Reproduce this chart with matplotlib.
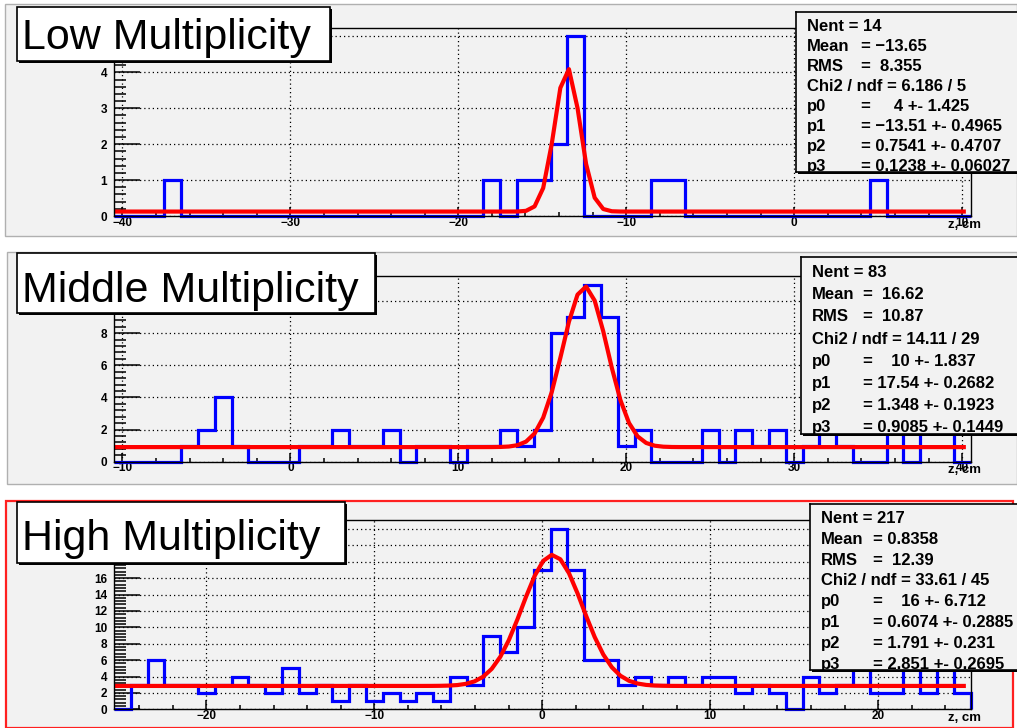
"""Primary vertex z distributions for three multiplicity classes, each fitted
with a gaussian on a flat background (gaus + pol0)."""
import numpy as np
import matplotlib

matplotlib.use("Agg")
import matplotlib.pyplot as plt  # noqa: E402
from matplotlib.patches import Rectangle  # noqa: E402
from matplotlib.ticker import FuncFormatter, MultipleLocator  # noqa: E402

plt.rcParams["font.family"] = ["Liberation Sans", "DejaVu Sans"]

W, H = 1017, 728
MINUS = "\u2212"

# ---- histograms: 1 cm bins centred on integer z ----
titles = ["Low Multiplicity", "Middle Multiplicity", "High Multiplicity"]
z_ranges = [(-40.5, 10.5), (-10.5, 40.5), (-25.5, 25.5)]

counts_low = [0, 0, 0, 1, 0, 0, 0, 0, 0, 0,
              0, 0, 0, 0, 0, 0, 0, 0, 0, 0,
              0, 0, 1, 0, 1, 1, 2, 5, 0, 0,
              0, 0, 1, 1, 0, 0, 0, 0, 0, 0,
              0, 0, 0, 0, 0, 1, 0, 0, 0, 0,
              0]
counts_mid = [0, 0, 0, 0, 1, 2, 4, 1, 0, 0,
              0, 1, 1, 2, 1, 1, 2, 0, 1, 1,
              0, 1, 1, 2, 1, 2, 8, 9, 11, 9,
              1, 2, 0, 0, 0, 2, 0, 2, 1, 2,
              0, 1, 2, 1, 0, 0, 2, 0, 2, 2,
              0]
counts_high = [0, 3, 6, 3, 3, 2, 3, 4, 3, 2,
               5, 2, 3, 1, 3, 1, 2, 1, 2, 1,
               4, 3, 9, 7, 10, 17, 22, 17, 6, 6,
               3, 4, 3, 4, 3, 4, 4, 2, 3, 2,
               0, 4, 2, 3, 5, 2, 2, 6, 2, 6,
               2]
counts = [counts_low, counts_mid, counts_high]

# fit results p0..p3 and the range the fitted function is drawn on
fit_low = [4.0, -13.51, 0.7541, 0.1238]
fit_mid = [10.0, 17.54, 1.348, 0.9085]
fit_high = [16.0, 0.6074, 1.791, 2.851]
fits = [fit_low, fit_mid, fit_high]
fit_ranges = [(-40.5, 10.1), (-10.5, 40.1), (-25.5, 25.1)]

# stat box lines: (label, value part aligned on the "=" column)
stats_low = [("Nent = 14", None), ("Mean", f"= {MINUS}13.65"), ("RMS", "=  8.355"),
             ("Chi2 / ndf = 6.186 / 5", None), ("p0", "=     4 +- 1.425"),
             ("p1", f"= {MINUS}13.51 +- 0.4965"), ("p2", "= 0.7541 +- 0.4707"),
             ("p3", "= 0.1238 +- 0.06027")]
stats_mid = [("Nent = 83", None), ("Mean", "=  16.62"), ("RMS", "=  10.87"),
             ("Chi2 / ndf = 14.11 / 29", None), ("p0", "=    10 +- 1.837"),
             ("p1", "= 17.54 +- 0.2682"), ("p2", "= 1.348 +- 0.1923"),
             ("p3", "= 0.9085 +- 0.1449")]
stats_high = [("Nent = 217", None), ("Mean", "= 0.8358"), ("RMS", "=  12.39"),
              ("Chi2 / ndf = 33.61 / 45", None), ("p0", "=    16 +- 6.712"),
              ("p1", "= 0.6074 +- 0.2885"), ("p2", "= 1.791 +- 0.231"),
              ("p3", "= 2.851 +- 0.2695")]
stats = [stats_low, stats_mid, stats_high]

# ---- layout in pixels (x0, y0, x1, y1), y measured from the top ----
pads = [(5, 4, 1017, 236), (7, 252, 1017, 484), (6, 501, 1013, 728)]
frames = [(114, 27.5, 970.5, 216), (114, 276, 970.5, 461.7), (114, 520, 970.5, 709.3)]
title_boxes = [(17, 7, 330, 61), (17, 253, 375, 313), (17, 502, 345, 563)]
title_base = [49, 301.5, 550]
stat_boxes = [(796, 12, 1030, 172), (801, 257, 1030, 434), (810, 503.6, 1030, 670)]
stat_cols = [(807, 861), (811.6, 863), (820.7, 873)]
y_major = [1, 2, 2]
y_minor = [0.2, 0.4, 0.4]

PAD_COLOR = "#f2f2f2"


def frect(x0, y0, x1, y1):
    return [x0 / W, 1 - y1 / H, (x1 - x0) / W, (y1 - y0) / H]


def fig_box(fig, box, z, **kw):
    x0, y0, x1, y1 = box
    r = Rectangle((x0 / W, 1 - y1 / H), (x1 - x0) / W, (y1 - y0) / H,
                  transform=fig.transFigure, zorder=z, **kw)
    fig.add_artist(r)
    return r


def int_label(limit):
    # y labels that would sit under the title box are left blank
    def fmt(v, _pos):
        if v > limit + 1e-9:
            return ""
        return f"{v:.0f}".replace("-", MINUS)
    return fmt


fig = plt.figure(figsize=(W / 100, H / 100), dpi=100, facecolor="white")

for i in range(3):
    pad_edge = "#ff2020" if i == 2 else "#b0b0b0"
    fig_box(fig, pads[i], 0.2, facecolor=PAD_COLOR, edgecolor=pad_edge,
            lw=1.6 if i == 2 else 1.0)

    lo, hi = z_ranges[i]
    vals = np.asarray(counts[i], dtype=float)
    edges = np.arange(lo, hi + 0.5, 1.0)
    ytop = 1.05 * vals.max()

    ax = fig.add_axes(frect(*frames[i]), zorder=1)
    ax.set_facecolor(PAD_COLOR)
    ax.set_xlim(lo, hi)
    ax.set_ylim(0, ytop)

    ax.stairs(vals, edges, baseline=0, color="#0000ff", lw=2.3,
              zorder=2.2, clip_on=False)

    p0, p1, p2, p3 = fits[i]
    xf = np.linspace(*fit_ranges[i], 100)
    ax.plot(xf, p0 * np.exp(-0.5 * ((xf - p1) / p2) ** 2) + p3,
            color="#ff0000", lw=3.0, zorder=2.4)

    # highest y value whose label still clears the title box
    fx0, fy0, fx1, fy1 = frames[i]
    label_max = (fy1 - title_boxes[i][3] - 6) / (fy1 - fy0) * ytop

    ax.xaxis.set_major_locator(MultipleLocator(10))
    ax.xaxis.set_minor_locator(MultipleLocator(2))
    ax.yaxis.set_major_locator(MultipleLocator(y_major[i]))
    ax.yaxis.set_minor_locator(MultipleLocator(y_minor[i]))
    ax.yaxis.set_major_formatter(FuncFormatter(int_label(label_max)))
    ax.tick_params(which="both", direction="in", top=False, right=False,
                   labelsize=8.5, width=1.1)
    ax.tick_params(axis="y", which="major", length=19, pad=5)
    ax.tick_params(axis="y", which="minor", length=8.5)
    ax.tick_params(axis="x", which="major", length=6.5, pad=0.5)
    ax.tick_params(axis="x", which="minor", length=3.2)
    for lab in ax.get_xticklabels() + ax.get_yticklabels():
        lab.set_fontweight("bold")
    ax.grid(which="major", color="black", linestyle=(0, (1, 2.4)), lw=0.9)
    for s in ax.spines.values():
        s.set_linewidth(1.0)

    fig.text((fx1 + 11) / W, 1 - (fy1 + 8.5) / H, "z, cm", ha="right",
             va="center", fontsize=9.5, fontweight="bold", zorder=4)

    # title box with drop shadow
    tb = title_boxes[i]
    fig_box(fig, (tb[0] + 2, tb[1] + 2, tb[2] + 2, tb[3] + 2), 3.0,
            facecolor="black", edgecolor="none")
    fig_box(fig, tb, 3.1, facecolor="white", edgecolor="black", lw=1.2)
    fig.text((tb[0] + 5) / W, 1 - title_base[i] / H, titles[i],
             ha="left", va="baseline", fontsize=31, zorder=3.2)

    # fit statistics box
    sb = stat_boxes[i]
    fig_box(fig, (sb[0] + 2, sb[1] + 2, sb[2] + 2, sb[3] + 2), 3.0,
            facecolor="black", edgecolor="none")
    sax = fig.add_axes(frect(*sb), zorder=3.1)
    sax.set_facecolor(PAD_COLOR)
    sax.set_xlim(sb[0], sb[2])
    sax.set_ylim(sb[3], sb[1])
    sax.set_xticks([])
    sax.set_yticks([])
    for s in sax.spines.values():
        s.set_linewidth(1.2)
    step = (sb[3] - sb[1]) / 8
    xl, xv = stat_cols[i]
    for k, (label, value) in enumerate(stats[i]):
        yb = sb[1] + step * (k + 0.65) + 5.8
        sax.text(xl, yb, label, ha="left", va="baseline", fontsize=12,
                 fontweight="bold", zorder=2, clip_on=True)
        if value is not None:
            sax.text(xv, yb, value, ha="left", va="baseline", fontsize=12,
                     fontweight="bold", zorder=2, clip_on=True)

fig.savefig("out.png", dpi=100, facecolor="white")
